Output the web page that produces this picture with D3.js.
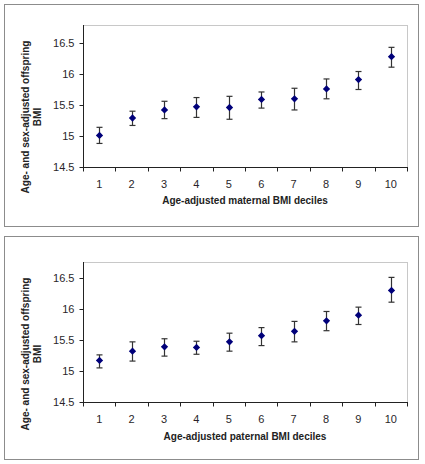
<!DOCTYPE html>
<html><head><meta charset="utf-8">
<script src="https://cdn.jsdelivr.net/npm/d3@7"></script>
<style>body{margin:0;background:#fff}svg{display:block}</style>
</head><body>
<script>
const deciles = [1,2,3,4,5,6,7,8,9,10];
const yTicks = [14.5,15,15.5,16,16.5];
const maternalMean = [15.01,15.29,15.42,15.47,15.46,15.59,15.60,15.76,15.91,16.28];
const maternalLow  = [14.88,15.17,15.28,15.30,15.27,15.45,15.42,15.60,15.75,16.11];
const maternalHigh = [15.14,15.40,15.56,15.62,15.64,15.71,15.77,15.92,16.04,16.43];
const paternalMean = [15.17,15.32,15.39,15.38,15.47,15.57,15.64,15.81,15.90,16.30];
const paternalLow  = [15.05,15.16,15.24,15.27,15.32,15.41,15.47,15.65,15.75,16.11];
const paternalHigh = [15.26,15.47,15.52,15.48,15.61,15.70,15.80,15.96,16.03,16.51];
const yTitle = ["Age- and sex-adjusted offspring","BMI"];

const svg = d3.select("body").append("svg").attr("width",425).attr("height",464);
const font = "Liberation Sans, Arial, sans-serif";

function panel(cfg){
  const g = svg.append("g");
  g.append("rect").attr("x",cfg.fx+0.5).attr("y",cfg.fy+0.5).attr("width",cfg.fw).attr("height",cfg.fh)
    .attr("fill","#fff").attr("stroke","#8c8c8c");
  const L=83, R=407, T=cfg.top, B=cfg.bottom;
  const x = d3.scaleBand().domain(deciles).range([L,R]);
  const y = d3.scaleLinear().domain([14.5,16.5]).range([B,B-124]);
  g.append("rect").attr("x",L+0.5).attr("y",T+0.5).attr("width",R-L).attr("height",B-T)
    .attr("fill","none").attr("stroke","#c8c8c8");
  const ya = g.append("g").attr("transform",`translate(${L+0.5},0)`)
    .call(d3.axisLeft(y).tickValues(yTicks).tickSize(4).tickPadding(5).tickFormat(d3.format("")));
  ya.select(".domain").attr("d",`M-0,${T}V${B+0.5}`);
  const xa = g.append("g").attr("transform",`translate(0,${B+0.5})`)
    .call(d3.axisBottom(x).tickSize(0).tickPadding(13));
  xa.select(".domain").attr("d",`M${L},0H${R+1}`);
  deciles.concat([11]).forEach((d,i)=>{
    const xx = i<10 ? x(d) : x(10)+x.bandwidth();
    xa.append("line").attr("x1",Math.round(xx)+0.5).attr("x2",Math.round(xx)+0.5).attr("y1",0).attr("y2",4).attr("stroke","#222");
  });
  [ya,xa].forEach(a=>{
    a.selectAll("text").attr("font-family",font).attr("font-size",11).attr("fill","#2a1f2a");
    a.selectAll("line,path").attr("stroke","#222");
  });
  const cx = d=>x(d)+x.bandwidth()/2;
  const eb = g.append("g").attr("stroke","#333").attr("stroke-width",1.2);
  deciles.forEach((d,i)=>{
    const X = Math.round(cx(d))+0.5;
    eb.append("line").attr("x1",X).attr("x2",X).attr("y1",y(cfg.hi[i])).attr("y2",y(cfg.lo[i]));
    eb.append("line").attr("x1",X-3).attr("x2",X+3).attr("y1",y(cfg.hi[i])).attr("y2",y(cfg.hi[i]));
    eb.append("line").attr("x1",X-3).attr("x2",X+3).attr("y1",y(cfg.lo[i])).attr("y2",y(cfg.lo[i]));
  });
  g.selectAll("path.pt").data(deciles).join("path").attr("class","pt")
    .attr("d",d3.symbol(d3.symbolDiamond2,34))
    .attr("transform",(d,i)=>`translate(${Math.round(cx(d))+0.5},${y(cfg.mean[i])})`)
    .attr("fill","#00007a");
  g.append("text").attr("x",245).attr("y",cfg.xtY).attr("text-anchor","middle")
    .attr("font-family",font).attr("font-weight","bold").attr("font-size",10).attr("fill","#222")
    .text(cfg.xtitle);
  const yt = g.append("text").attr("transform",`translate(29,${cfg.ytC}) rotate(-90)`)
    .attr("text-anchor","middle").attr("font-family",font).attr("font-weight","bold").attr("font-size",10).attr("fill","#222");
  yTitle.forEach((t,i)=>yt.append("tspan").attr("x",0).attr("dy",i===0?0:12).text(t));
}

panel({fx:4,fy:4,fw:414,fh:222,top:25,bottom:167,mean:maternalMean,lo:maternalLow,hi:maternalHigh,
  xtitle:"Age-adjusted maternal BMI deciles",xtY:204,ytC:117});
panel({fx:4,fy:236,fw:414,fh:223,top:262,bottom:402,mean:paternalMean,lo:paternalLow,hi:paternalHigh,
  xtitle:"Age-adjusted paternal BMI deciles",xtY:440,ytC:354});
</script>
</body></html>
